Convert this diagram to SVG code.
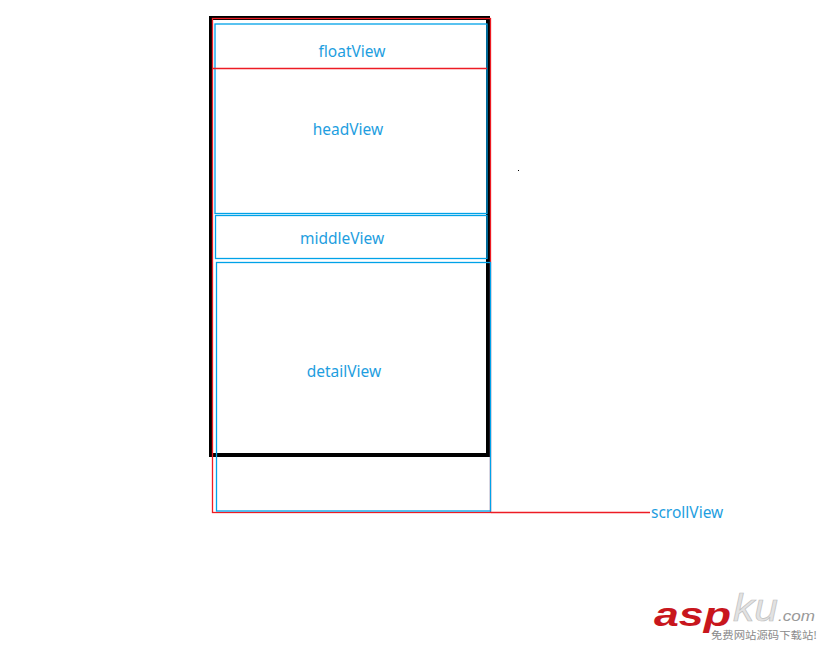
<svg xmlns="http://www.w3.org/2000/svg" width="822" height="645" viewBox="0 0 822 645">
<style>
.lbl{font-family:"Noto Sans","Liberation Sans",sans-serif;font-size:15.5px;fill:#1e9ee0;text-anchor:middle}
.blue{fill:none;stroke:#00a2e8;stroke-width:1.3}
.red{fill:none;stroke:#ed1c24;stroke-width:1.3}
</style>
<rect width="822" height="645" fill="#ffffff"/>
<g id="screen">
<rect x="211" y="18" width="277" height="437" fill="none" stroke="#000" stroke-width="4"/>
</g>
<g id="scrollView">
<rect class="red" x="212.5" y="18.5" width="278" height="494"/>
<text class="lbl" x="651" y="518" style="text-anchor:start">scrollView</text>
</g>
<g id="headView">
<rect class="blue" x="215" y="24" width="272" height="189.5"/>
<text class="lbl" x="348" y="135">headView</text>
</g>
<g id="floatView">
<text class="lbl" x="352" y="56.5">floatView</text>
</g>
<g id="middleView">
<rect class="blue" x="215.5" y="215.5" width="271.5" height="43"/>
<text class="lbl" x="342" y="244">middleView</text>
</g>
<g id="detailView">
<rect class="blue" x="216.5" y="262.5" width="274" height="248.5"/>
<text class="lbl" x="344" y="376.5">detailView</text>
</g>
<g id="connectors">
<line x1="213" y1="68.5" x2="487" y2="68.5" stroke="#ed1c24" stroke-width="1.3"/>
<line x1="491" y1="512.5" x2="650" y2="512.5" stroke="#ed1c24" stroke-width="1.3"/>
</g>
<rect x="518" y="170" width="1" height="1" fill="#000"/>
<g id="watermark">
<text x="654" y="626" font-family="'Liberation Sans',Arial,sans-serif" font-size="34" font-weight="bold" font-style="italic" fill="#c8161d" textLength="77" lengthAdjust="spacingAndGlyphs">asp</text>
<text x="733" y="621" font-family="'Liberation Sans',Arial,sans-serif" font-size="38" fill="#e2e2e2" stroke="#bdbdbd" stroke-width="0.6" font-style="italic" textLength="45" lengthAdjust="spacingAndGlyphs">ku</text>
<text x="778" y="621" font-family="'Liberation Sans',Arial,sans-serif" font-size="15" font-style="italic" fill="#999999" textLength="37" lengthAdjust="spacingAndGlyphs">.com</text>
<text x="711" y="639" font-family="'Noto Sans CJK SC',sans-serif" font-size="10.5" fill="#8a8a8a" textLength="106" lengthAdjust="spacingAndGlyphs">免费网站源码下载站!</text>
</g>
</svg>
